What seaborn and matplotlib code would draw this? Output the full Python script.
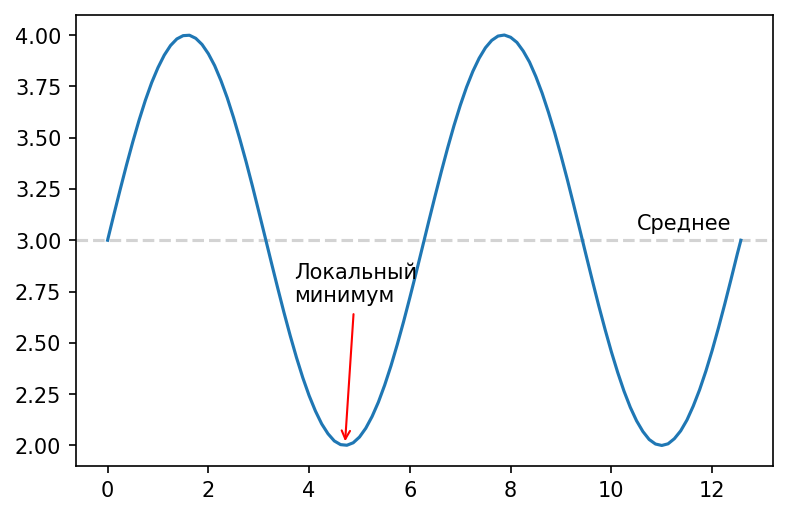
import matplotlib
matplotlib.use('Agg')
import matplotlib.pyplot as plt
import seaborn as sns

# Values
x_vals = [0.0, 0.125, 0.25, 0.375, 0.5, 0.625, 0.75, 0.875, 1.0, 1.125, 1.25,
          1.375, 1.5, 1.625, 1.75, 1.875, 2.0, 2.125, 2.25, 2.375, 2.5, 2.625,
          2.75, 2.875, 3.0, 3.125, 3.25, 3.375, 3.5, 3.625, 3.75, 3.875, 4.0,
          4.125, 4.25, 4.375, 4.5, 4.625, 4.75, 4.875, 5.0, 5.125, 5.25, 5.375,
          5.5, 5.625, 5.75, 5.875, 6.0, 6.125, 6.25, 6.375, 6.5, 6.625, 6.75,
          6.875, 7.0, 7.125, 7.25, 7.375, 7.5, 7.625, 7.75, 7.875, 8.0, 8.125,
          8.25, 8.375, 8.5, 8.625, 8.75, 8.875, 9.0, 9.125, 9.25, 9.375, 9.5,
          9.625, 9.75, 9.875, 10.0, 10.125, 10.25, 10.375, 10.5, 10.625, 10.75,
          10.875, 11.0, 11.125, 11.25, 11.375, 11.5, 11.625, 11.75, 11.875,
          12.0, 12.125, 12.25, 12.375, 12.5, 12.57]
y_vals = [3.000, 3.125, 3.247, 3.366, 3.479, 3.585, 3.682, 3.768, 3.841, 3.902,
          3.949, 3.981, 3.997, 3.999, 3.984, 3.954, 3.909, 3.851, 3.778, 3.694,
          3.598, 3.493, 3.382, 3.264, 3.141, 3.017, 2.892, 2.769, 2.649, 2.535,
          2.428, 2.330, 2.243, 2.168, 2.105, 2.057, 2.022, 2.004, 2.001, 2.013,
          2.041, 2.084, 2.141, 2.211, 2.294, 2.388, 2.492, 2.603, 2.721, 2.842,
          2.967, 3.092, 3.215, 3.335, 3.450, 3.558, 3.657, 3.746, 3.823, 3.887,
          3.938, 3.974, 3.995, 4.000, 3.989, 3.964, 3.922, 3.868, 3.798, 3.717,
          3.624, 3.523, 3.412, 3.296, 3.174, 3.050, 2.925, 2.801, 2.680, 2.565,
          2.456, 2.356, 2.265, 2.186, 2.120, 2.068, 2.029, 2.007, 2.000, 2.008,
          2.033, 2.071, 2.124, 2.192, 2.271, 2.362, 2.463, 2.573, 2.689, 2.810,
          2.934, 3.000]

mean_level = 3.0
min_point = (4.71, 2.0)
min_label = 'Локальный\nминимум'
mean_label = 'Среднее'

fig = plt.figure(figsize=(5.25, 3.45), dpi=150)
ax = fig.add_axes([0.0964, 0.0986, 0.8846, 0.8724])

sns.lineplot(x=x_vals, y=y_vals, ax=ax, color='#1f77b4')
ax.axhline(mean_level, color='lightgray', linestyle='--', zorder=0)

ax.annotate(min_label, xy=min_point, xytext=(3.7, 2.7),
            arrowprops=dict(arrowstyle='->', color='red'))
ax.text(10.5, 3.05, mean_label)

ax.set_yticks([2.0, 2.25, 2.5, 2.75, 3.0, 3.25, 3.5, 3.75, 4.0])

fig.savefig('out.png', dpi=150)
